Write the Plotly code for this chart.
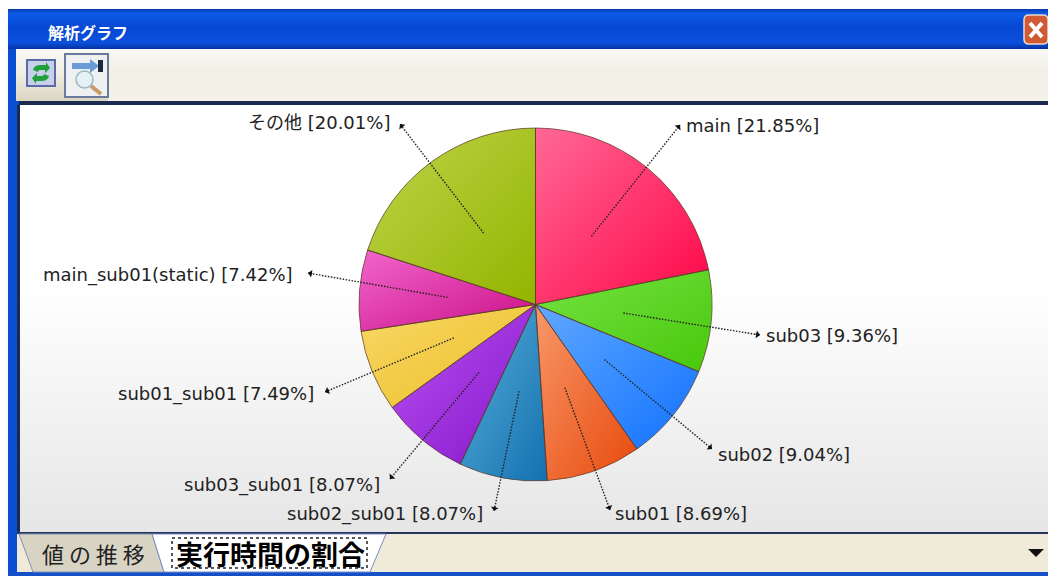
import numpy as np
import plotly.graph_objects as go

# ---- data ----
categories = ["main", "sub03", "sub02", "sub01", "sub02_sub01", "sub03_sub01",
              "sub01_sub01", "main_sub01(static)", "その他"]
shares = [21.85, 9.36, 9.04, 8.69, 8.07, 8.07, 7.49, 7.42, 20.01]
light_colors = ["#ff6a98", "#78e444", "#62aaff", "#f89a6c", "#5cb0dc",
                "#bc58f2", "#f8da66", "#f268cc", "#c0d44c"]
dark_colors = ["#ff0648", "#48c80c", "#1272ff", "#e84a0c", "#1472b0",
               "#8412cc", "#ecbc28", "#cc1088", "#94b400"]

# ---- layout constants (pixels in the 1048x576 window) ----
W, H = 1048, 576
CX, CY, R = 535.5, 304.5, 176.5
tips = [(680, 125), (760, 335), (712, 449), (610, 510), (494, 511),
        (390, 479), (325, 392), (308, 273), (400, 124)]
anchors = [(684, 125, "left"), (764, 335, "left"), (716, 454, "left"),
           (613, 513, "left"), (485, 514, "right"), (382, 485, "right"),
           (316, 394, "right"), (295, 275, "right"), (392, 122, "right")]
FONT = "DejaVu Sans, Noto Sans CJK JP, sans-serif"
JP = "Noto Sans CJK JP, sans-serif"


def rgba(hex_color, a):
    r, g, b = (int(hex_color[i:i + 2], 16) for i in (1, 3, 5))
    return f"rgba({r},{g},{b},{a})"


def blend(c0, c1, t):
    p = [int(c0[i:i + 2], 16) for i in (1, 3, 5)]
    q = [int(c1[i:i + 2], 16) for i in (1, 3, 5)]
    return "#" + "".join(f"{round(a + (b - a) * t):02x}" for a, b in zip(p, q))


fig = go.Figure()

# panel background with its vertical shading
fig.add_trace(go.Scatter(
    x=[20, 1048, 1048, 20, 20], y=[105, 105, 532, 532, 105], mode="lines",
    line=dict(width=0), fill="toself", hoverinfo="skip", showlegend=False,
    fillgradient=dict(type="vertical", start=105, stop=532,
                      colorscale=[[0, "#ffffff"], [0.42, "#ffffff"], [1, "#e6e6e6"]]),
))

# slice shading: wedges derived from the values
edges = np.concatenate([[0], np.cumsum(shares)]) / sum(shares) * 2 * np.pi
mids = (edges[:-1] + edges[1:]) / 2
for a0, a1, lc, dc in zip(edges[:-1], edges[1:], light_colors, dark_colors):
    t = np.linspace(a0, a1, max(int((a1 - a0) * 60), 4))
    xs = np.concatenate([[CX], CX + R * np.sin(t), [CX]])
    ys = np.concatenate([[CY], CY - R * np.cos(t), [CY]])
    fig.add_trace(go.Scatter(
        x=xs, y=ys, mode="lines", line=dict(width=0), fill="toself",
        hoverinfo="skip", showlegend=False,
        fillgradient=dict(type="horizontal", start=xs.min(), stop=xs.max(),
                          colorscale=[[0, lc], [1, dc]]),
    ))
    fig.add_trace(go.Scatter(
        x=xs, y=ys, mode="lines", line=dict(width=0), fill="toself",
        hoverinfo="skip", showlegend=False,
        fillgradient=dict(type="vertical", start=ys.min(), stop=ys.max(),
                          colorscale=[[0, rgba(lc, 0.5)], [1, rgba(dc, 0.5)]]),
    ))

# the pie itself (slice outlines on top of the shading)
fig.add_trace(go.Pie(
    labels=categories, values=shares, sort=False, direction="clockwise", rotation=0,
    textinfo="none", hoverinfo="label+percent", showlegend=False,
    marker=dict(colors=[rgba(c, 0.02) for c in dark_colors],
                line=dict(color="rgba(90,55,40,0.7)", width=1)),
    domain=dict(x=[(CX - R) / W, (CX + R) / W],
                y=[(H - CY - R) / H, (H - CY + R) / H]),
))

shapes = []
annos = []


def rect(x0, y0, x1, y1, fill, line=None, lw=0, layer="below"):
    shapes.append(dict(type="rect", xref="x", yref="y", x0=x0, y0=y0, x1=x1, y1=y1,
                       fillcolor=fill, layer=layer,
                       line=dict(color=line or fill, width=lw)))


def bands(x0, x1, y0, y1, stops):
    """Stacked one-pixel rows between colour stops, for window chrome shading."""
    for y in range(y0, y1):
        f = (y - y0) / max(y1 - y0 - 1, 1)
        for (t0, c0), (t1, c1) in zip(stops[:-1], stops[1:]):
            if t0 <= f <= t1:
                rect(x0, y, x1, y + 1, blend(c0, c1, (f - t0) / (t1 - t0 or 1)))
                break


def path(d, fill, line=None, lw=0, layer="above"):
    shapes.append(dict(type="path", xref="x", yref="y", path=d, fillcolor=fill, layer=layer,
                       line=dict(color=line or "rgba(0,0,0,0)", width=lw)))


# window chrome
rect(0, 0, W, H, "#ffffff")
rect(8, 9, W, H, "#0a4fd2")
bands(8, W, 9, 49, [(0, "#0a3fb4"), (0.1, "#0b5ae6"), (0.45, "#0648d4"),
                    (0.85, "#0a50dc"), (1, "#0434a8")])
bands(16, W, 49, 101, [(0, "#f8f9f6"), (0.35, "#f2f0e6"), (1, "#f4f2e8")])
bands(16, 108, 70, 101, [(0, "#f2f0e6"), (1, "#dcd6c2")])
rect(19, 101, W, 105, "#1c2a50")
rect(17, 105, 20, 534, "#1c2a50")
rect(17, 531, W, 534, "#26345c")
rect(16, 534, W, 572, "#f0ead8")
rect(8, 572, W, H, "#1450c8")
rect(8, 105, 17, 572, "#0a4fd2")

# close button
path("M1024,20 Q1024,15 1029,15 L1043,15 Q1048,15 1048,20 L1048,39 Q1048,44 1043,44 "
     "L1029,44 Q1024,44 1024,39 Z", "#cf5a34", "#f2d6c8", 1.5)
shapes.append(dict(type="line", xref="x", yref="y", x0=1030, y0=23, x1=1042, y1=37,
                   line=dict(color="#ffffff", width=4)))
shapes.append(dict(type="line", xref="x", yref="y", x0=1042, y0=23, x1=1030, y1=37,
                   line=dict(color="#ffffff", width=4)))

# toolbar buttons
rect(27, 60, 55, 86, "#c8cfe8", "#5a6ca8", 2, layer="above")
path("M33,70 Q34,65 41,65 L46,65 L46,62 L50,68 L45,73 L45,70 L40,70 Q38,70 38,72 Z", "#1fa03a")
path("M49,76 Q48,81 41,81 L36,81 L36,84 L32,78 L37,73 L37,76 L42,76 Q44,76 44,74 Z", "#1fa03a")
rect(65, 54, 108, 97, "#eef0f2", "#6a7a9a", 2, layer="above")
path("M72,63 L90,63 L90,59 L99,66 L90,73 L90,69 L72,69 Z", "#6a9ad8")
rect(98, 60, 103, 72, "#1c2a40", layer="above")
shapes.append(dict(type="circle", xref="x", yref="y", x0=76, y0=71, x1=93, y1=88,
                   fillcolor="#e4f2f6", layer="above", line=dict(color="#9ab8c0", width=1.5)))
shapes.append(dict(type="line", xref="x", yref="y", x0=91, y0=86, x1=101, y1=94,
                   line=dict(color="#c89a68", width=4)))

# tabs
path("M19,534 L152,534 L164,572 L33,572 Z", "#d8d4c4", "#8090b8", 1, layer="below")
path("M152,534 L386,534 L370,572 L164,572 Z", "#ffffff", "#7a8cc0", 1, layer="below")
shapes.append(dict(type="rect", xref="x", yref="y", x0=172, y0=538, x1=367, y1=568,
                   line=dict(color="#222222", width=1.5, dash="dot"), layer="above"))
path("M1028,549 L1044,549 L1036,557 Z", "#111111")

# leader lines with arrowheads
for mid, (tx, ty) in zip(mids, tips):
    sx, sy = CX + 0.5 * R * np.sin(mid), CY - 0.5 * R * np.cos(mid)
    shapes.append(dict(type="line", xref="x", yref="y", x0=sx, y0=sy, x1=tx, y1=ty, layer="above",
                       line=dict(color="#222222", width=1.4, dash="1.5px,1.5px")))
    u = np.hypot(tx - sx, ty - sy)
    annos.append(dict(x=tx, y=ty, ax=tx + (sx - tx) / u * 6, ay=ty + (sy - ty) / u * 6,
                      xref="x", yref="y", axref="x", ayref="y", text="", showarrow=True,
                      arrowhead=1, arrowsize=0.8, arrowwidth=1.6, arrowcolor="#111111"))

# slice labels
for name, value, (ax, ay, anchor) in zip(categories, shares, anchors):
    annos.append(dict(x=ax, y=ay, xref="x", yref="y", text=f"{name} [{value:.2f}%]",
                      showarrow=False, xanchor=anchor, yanchor="middle",
                      font=dict(family=FONT, size=18, color="#222222")))


def label(x, y, text, size, color, bold=False, anchor="left"):
    annos.append(dict(x=x, y=y, xref="x", yref="y", text=f"<b>{text}</b>" if bold else text,
                      showarrow=False, xanchor=anchor, yanchor="middle",
                      font=dict(family=JP, size=size, color=color)))


label(46, 32, "解析グラフ", 16, "#ffffff", bold=True)
label(40, 553, "値 の 推 移", 22, "#222222")
label(174, 553, "実行時間の割合", 27, "#000000", bold=True)

fig.update_layout(
    width=W, height=H, autosize=False,
    margin=dict(l=0, r=0, t=0, b=0),
    paper_bgcolor="#ffffff", plot_bgcolor="rgba(0,0,0,0)",
    xaxis=dict(range=[0, W], visible=False, fixedrange=True, domain=[0, 1]),
    yaxis=dict(range=[H, 0], visible=False, fixedrange=True, domain=[0, 1]),
    shapes=shapes, annotations=annos, showlegend=False,
)
fig.write_html("out.html", config={"displayModeBar": False},
               default_width=f"{W}px", default_height=f"{H}px",
               post_script="document.body.style.margin='0';")
